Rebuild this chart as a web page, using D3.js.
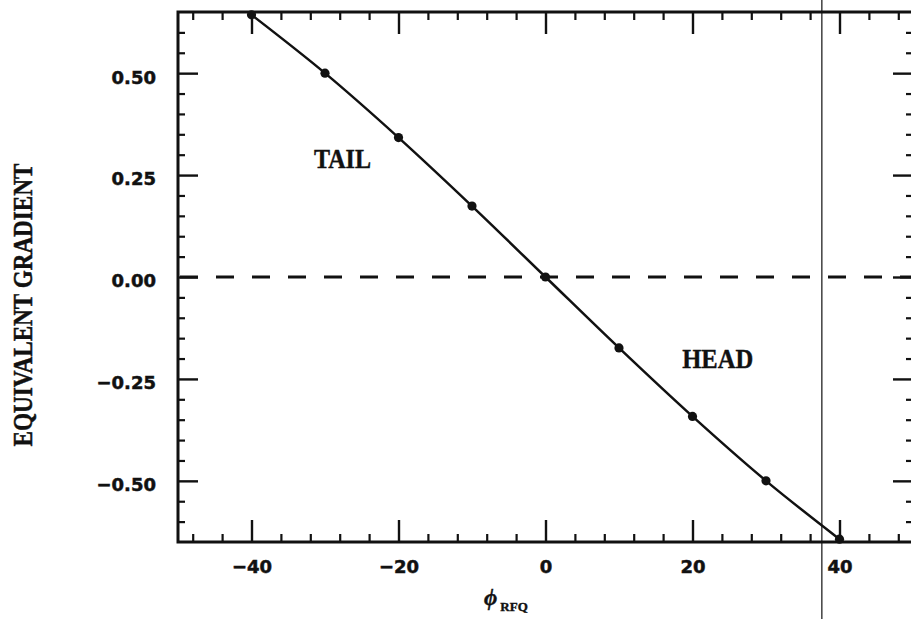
<!DOCTYPE html>
<html>
<head>
<meta charset="utf-8">
<script src="https://cdn.jsdelivr.net/npm/d3@7"></script>
<style>
  html, body { margin: 0; padding: 0; background: #fff; }
  svg { display: block; }
</style>
</head>
<body>
<svg id="chart" width="911" height="619"></svg>
<script>
// Equivalent gradient versus RFQ phase
const phiValues = [-40, -30, -20, -10, 0, 10, 20, 30, 40];
const gradientValues = [0.643, 0.5, 0.342, 0.174, 0, -0.174, -0.342, -0.5, -0.643];

const xMajorTicks = [-40, -20, 0, 20, 40];
const xTickLabels = ["\u221240", "\u221220", "0", "20", "40"];
const xMinorTicks = [-48, -44, -36, -32, -28, -24, -16, -12, -8, -4, 4, 8, 12, 16, 24, 28, 32, 36, 44, 48];

const yMajorTicks = [0.5, 0.25, 0, -0.25, -0.5];
const yTickLabels = ["0.50", "0.25", "0.00", "\u22120.25", "\u22120.50"];
const yMinorTicks = [0.6, 0.55, 0.45, 0.4, 0.35, 0.3, 0.2, 0.15, 0.1, 0.05,
                     -0.05, -0.1, -0.15, -0.2, -0.3, -0.35, -0.4, -0.45, -0.55, -0.6];

const regionLabels = [
  { text: "TAIL", phi: -31.5, g: 0.268, len: 57 },
  { text: "HEAD", phi: 18.6, g: -0.222, len: 71 }
];
const markerPhi = 37.6;

const svg = d3.select("#chart");
const x = d3.scaleLinear().domain([-50, 50]).range([178, 913]);
const y = d3.scaleLinear().domain([-0.65, 0.65]).range([542, 12]);

const ink = "#111";
const tickFont = "'DejaVu Sans', sans-serif";

function styleAxis(g, stroke) {
  g.select(".domain").remove();
  g.selectAll(".tick line").attr("stroke", ink).attr("stroke-width", stroke);
  g.selectAll("text").attr("fill", ink).attr("font-family", tickFont)
    .attr("font-weight", "bold").attr("font-size", 18)
    .attr("stroke", ink).attr("stroke-width", 0.5);
}

// bottom axis (ticks point inward)
svg.append("g").attr("transform", `translate(0,${y.range()[0]})`)
  .call(d3.axisBottom(x).tickValues(xMajorTicks).tickSize(-22).tickPadding(18)
    .tickFormat((d, i) => xTickLabels[i]))
  .call(g => styleAxis(g, 2.4));
svg.append("g").attr("transform", `translate(0,${y.range()[0]})`)
  .call(d3.axisBottom(x).tickValues(xMinorTicks).tickSize(-8).tickFormat(""))
  .call(g => styleAxis(g, 2.2));

// top axis mirror
svg.append("g").attr("transform", `translate(0,${y.range()[1]})`)
  .call(d3.axisTop(x).tickValues(xMajorTicks).tickSize(-22).tickFormat(""))
  .call(g => styleAxis(g, 2.4));
svg.append("g").attr("transform", `translate(0,${y.range()[1]})`)
  .call(d3.axisTop(x).tickValues(xMinorTicks).tickSize(-8).tickFormat(""))
  .call(g => styleAxis(g, 2.2));

// left axis
svg.append("g").attr("transform", `translate(${x.range()[0]},0)`)
  .call(d3.axisLeft(y).tickValues(yMajorTicks).tickSize(-20).tickPadding(22)
    .tickFormat((d, i) => yTickLabels[i]))
  .call(g => styleAxis(g, 2.4))
  .call(g => g.selectAll("text").attr("dy", "0.55em"));
svg.append("g").attr("transform", `translate(${x.range()[0]},0)`)
  .call(d3.axisLeft(y).tickValues(yMinorTicks).tickSize(-7).tickFormat(""))
  .call(g => styleAxis(g, 2.2));

// right axis mirror
svg.append("g").attr("transform", `translate(${x.range()[1]},0)`)
  .call(d3.axisRight(y).tickValues(yMajorTicks).tickSize(-20).tickFormat(""))
  .call(g => styleAxis(g, 2.4));
svg.append("g").attr("transform", `translate(${x.range()[1]},0)`)
  .call(d3.axisRight(y).tickValues(yMinorTicks).tickSize(-7).tickFormat(""))
  .call(g => styleAxis(g, 2.2));

// frame
svg.append("rect")
  .attr("x", x.range()[0]).attr("y", y.range()[1])
  .attr("width", x.range()[1] - x.range()[0])
  .attr("height", y.range()[0] - y.range()[1])
  .attr("fill", "none").attr("stroke", ink).attr("stroke-width", 3);

// zero reference
svg.append("line")
  .attr("x1", x(-50)).attr("x2", x(50)).attr("y1", y(0)).attr("y2", y(0))
  .attr("stroke", ink).attr("stroke-width", 3.2)
  .attr("stroke-dasharray", "18,18").attr("stroke-dashoffset", -2);

// curve and points
const pts = phiValues.map((p, i) => [p, gradientValues[i]]);
svg.append("path")
  .datum(pts)
  .attr("d", d3.line().x(d => x(d[0])).y(d => y(d[1])).curve(d3.curveCatmullRom))
  .attr("fill", "none").attr("stroke", ink).attr("stroke-width", 2.5);
svg.selectAll("circle.pt").data(pts).join("circle")
  .attr("class", "pt")
  .attr("cx", d => x(d[0])).attr("cy", d => y(d[1])).attr("r", 4.6)
  .attr("fill", ink);

// region labels
svg.selectAll("text.region").data(regionLabels).join("text")
  .attr("class", "region")
  .attr("x", d => x(d.phi)).attr("y", d => y(d.g))
  .attr("textLength", d => d.len).attr("lengthAdjust", "spacingAndGlyphs")
  .attr("font-family", "'Liberation Serif', serif").attr("font-weight", "bold")
  .attr("font-size", 27).attr("fill", ink)
  .attr("stroke", ink).attr("stroke-width", 0.4)
  .text(d => d.text);

// vertical marker line
svg.append("line")
  .attr("x1", x(markerPhi)).attr("x2", x(markerPhi)).attr("y1", 0).attr("y2", 619)
  .attr("stroke", ink).attr("stroke-width", 1.2);

// axis titles
svg.append("text")
  .attr("transform", "translate(32,305) rotate(-90)")
  .attr("text-anchor", "middle")
  .attr("textLength", 283).attr("lengthAdjust", "spacingAndGlyphs")
  .attr("font-family", "'Liberation Serif', serif").attr("font-weight", "bold")
  .attr("font-size", 28).attr("fill", ink)
  .attr("stroke", ink).attr("stroke-width", 0.5)
  .text("EQUIVALENT GRADIENT");

const xt = svg.append("text")
  .attr("x", 484).attr("y", 605)
  .attr("font-family", "'Liberation Serif', serif").attr("font-weight", "bold")
  .attr("fill", ink).attr("stroke", ink).attr("stroke-width", 0.4);
xt.append("tspan").attr("font-size", 23).attr("font-style", "italic").text("\u03D5");
xt.append("tspan").attr("font-size", 13).attr("dx", 3).attr("dy", 6).text("RFQ");
</script>
</body>
</html>
